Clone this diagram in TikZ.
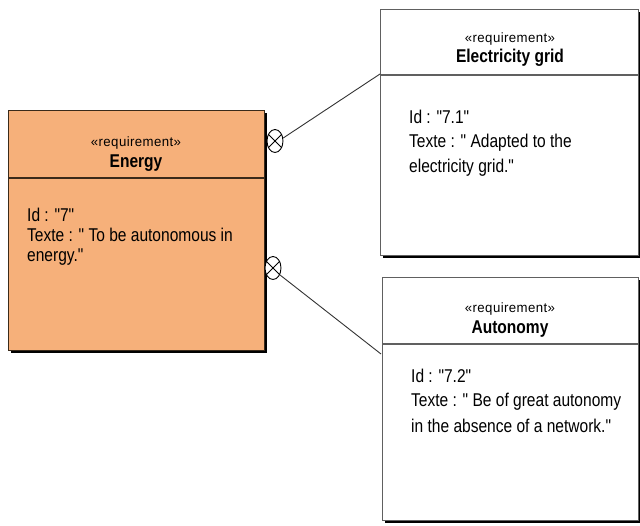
\documentclass[tikz,border=0pt]{standalone}
\usepackage{fontspec}
\setmainfont{Liberation Sans}[FakeStretch=0.84, Ligatures=TeXOff]
\newfontfamily\stereofont{Liberation Sans}[FakeStretch=0.98, LetterSpace=3]
\usetikzlibrary{shapes.geometric}
\definecolor{reqorange}{HTML}{F6B07A}
\definecolor{reqedge}{HTML}{3A2A1A}
\definecolor{boxedge}{HTML}{606060}
\tikzset{
  reqbox/.style={draw=boxedge, line width=1.4pt, fill=white, rectangle, inner sep=0pt, anchor=north west},
  shadowbox/.style={fill=black, rectangle, inner sep=0pt, anchor=north west, draw=none},
  stereo/.style={font=\stereofont\fontsize{13.5}{14}\selectfont, inner sep=0pt, anchor=base},
  title/.style={font=\fontsize{18.5}{19}\selectfont\bfseries, inner sep=0pt, anchor=base},
  body/.style={font=\fontsize{18.5}{19}\selectfont, inner sep=0pt, anchor=base west},
  divline/.style={draw=boxedge, line width=1.4pt},
  xcirc/.style={ellipse, draw=black, line width=0.9pt, minimum width=16pt, minimum height=23pt, inner sep=0pt, fill=white},
  conn/.style={draw=black!80, line width=0.9pt}
}
\begin{document}
\begin{tikzpicture}[x=1pt,y=-1pt]
\useasboundingbox (0,0) rectangle (640,526);
% ---------- Energy ----------
\node[shadowbox, minimum width=256pt, minimum height=240pt] (ensh) at (11,113) {};
\node[reqbox, draw=reqedge, fill=reqorange, minimum width=256pt, minimum height=240pt] (energy) at (8,110) {};
\draw[divline, draw=reqedge] (8,178) -- (264,178);
\node[stereo] (enst) at (136,147) {«requirement»};
\node[title] (enti) at (136,168) {Energy};
\node[body] (enb1) at (27,222) {Id : "7"};
\node[body] (enb2) at (27,242) {Texte : " To be autonomous in};
\node[body] (enb3) at (27,262) {energy."};
% ---------- Electricity grid ----------
\node[shadowbox, minimum width=258pt, minimum height=246pt] (elsh) at (383,12) {};
\node[reqbox, minimum width=258pt, minimum height=246pt] (elec) at (380,9) {};
\draw[divline] (380,75) -- (638,75);
\node[stereo] (elst) at (510,43) {«requirement»};
\node[title] (elti) at (510,63) {Electricity grid};
\node[body] (elb1) at (409,124) {Id : "7.1"};
\node[body] (elb2) at (409,148) {Texte : " Adapted to the};
\node[body] (elb3) at (409,173) {electricity grid."};
% ---------- Autonomy ----------
\node[shadowbox, minimum width=256pt, minimum height=243pt] (ausH) at (385,280) {};
\node[reqbox, minimum width=256pt, minimum height=243pt] (auto) at (382,277) {};
\draw[divline] (382,344) -- (638,344);
\node[stereo] (aust) at (510,313) {«requirement»};
\node[title] (auti) at (510,334) {Autonomy};
\node[body] (aub1) at (411,383) {Id : "7.2"};
\node[body] (aub2) at (411,407) {Texte : " Be of great autonomy};
\node[body] (aub3) at (411,432) {in the absence of a network."};
% ---------- connectors ----------
\coordinate (elend) at (380,74);
\coordinate (auend) at (381,354);
\node[xcirc] (c1) at (275,141) {};
\draw[line width=0.9pt] (c1.45) -- (c1.225) (c1.135) -- (c1.315);
\node[xcirc] (c2) at (273,268) {};
\draw[line width=0.9pt] (c2.45) -- (c2.225) (c2.135) -- (c2.315);
\draw[conn] (c1.20) -- (elend);
\draw[conn] (c2.-45) -- (auend);
\end{tikzpicture}
\end{document}
